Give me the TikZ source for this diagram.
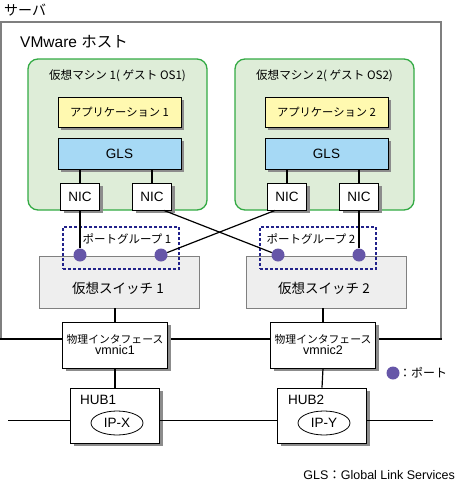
\documentclass[tikz,border=0pt]{standalone}
\usepackage{fontspec}
\setmainfont{Liberation Sans}
\newfontfamily\jp{Noto Sans CJK JP}
\usetikzlibrary{shadows,shapes.geometric}
\definecolor{vmgreen}{HTML}{33AA44}
\definecolor{vmfill}{HTML}{DEEDD8}
\definecolor{appfill}{HTML}{FFF9B0}
\definecolor{glsfill}{HTML}{A6D9F5}
\definecolor{swfill}{HTML}{EEEEEE}
\definecolor{portfill}{HTML}{6656A8}
\definecolor{pgblue}{HTML}{22228A}
\definecolor{srvgray}{HTML}{7F7F7F}
\tikzset{
  shad/.style={drop shadow={opacity=1,fill=black!45,shadow xshift=3pt,shadow yshift=-3pt}},
  vmbox/.style={draw=vmgreen,fill=vmfill,line width=1.3pt,rounded corners=10pt,minimum width=179pt,minimum height=151pt},
  appbox/.style={draw=black,fill=appfill,line width=0.8pt,shad,minimum width=123pt,minimum height=30pt,font=\jp\fontsize{11.3}{13}\selectfont},
  glsbox/.style={draw=black,fill=glsfill,line width=0.8pt,shad,minimum width=123pt,minimum height=31pt,font=\fontsize{13.5}{15}\selectfont},
  nicbox/.style={draw=black,fill=white,line width=0.8pt,shad,minimum width=39pt,minimum height=27pt,inner sep=0pt,font=\fontsize{13.5}{15}\selectfont},
  swbox/.style={draw=black!50,fill=swfill,line width=0.8pt,minimum width=160pt,minimum height=52pt},
  pgbox/.style={draw=pgblue,dash pattern=on 3pt off 2pt,line width=1.4pt,minimum width=116pt,minimum height=42pt},
  port/.style={circle,fill=portfill,minimum size=13pt,inner sep=0pt},
  physbox/.style={draw=black,fill=white,line width=0.8pt,shad,minimum width=105pt,minimum height=46pt},
  hubbox/.style={draw=black,fill=white,line width=0.8pt,shad,minimum width=89pt,minimum height=55pt},
  ipell/.style={ellipse,draw=black,line width=0.8pt,minimum width=52pt,minimum height=24pt,inner sep=0pt,font=\fontsize{13.5}{15}\selectfont},
  conn/.style={draw=black,line width=1.2pt},
  lbl/.style={inner sep=0pt}
}
\begin{document}
\begin{tikzpicture}[x=1pt,y=-1pt]
\useasboundingbox (0,0) rectangle (458,485);
% server
\draw[srvgray,line width=2pt] (1,339) -- (1,22) -- (441,22) -- (441,339);
\draw[conn] (0,339) -- (442,339);
\node[lbl,anchor=west,font=\jp\fontsize{14}{16}\selectfont] (srvlbl) at (4,10) {サーバ};
\node[lbl,anchor=west,font=\fontsize{15.5}{17}\selectfont] (hostlbl) at (20,42) {VMware {\jp ホスト}};
% VMs
\node[vmbox] (vm1) at (117.5,134.5) {};
\node[vmbox] (vm2) at (324.5,134.5) {};
\node[lbl,font=\jp\fontsize{11.6}{13}\selectfont] (vm1lbl) at (117.5,76) {仮想マシン 1( ゲスト OS1)};
\node[lbl,font=\jp\fontsize{11.6}{13}\selectfont] (vm2lbl) at (324.5,76) {仮想マシン 2( ゲスト OS2)};
\node[appbox] (app1) at (119.5,112) {アプリケーション 1};
\node[appbox] (app2) at (326.5,112) {アプリケーション 2};
\node[glsbox] (gls1) at (119.5,153.5) {GLS};
\node[glsbox] (gls2) at (326.5,153.5) {GLS};
\node[nicbox] (nic1a) at (80,196.5) {NIC};
\node[nicbox] (nic1b) at (152,196.5) {NIC};
\node[nicbox] (nic2a) at (287,196.5) {NIC};
\node[nicbox] (nic2b) at (359,196.5) {NIC};
\draw[conn] (gls1.south -| nic1a) -- (nic1a.north);
\draw[conn] (gls1.south -| nic1b) -- (nic1b.north);
\draw[conn] (gls2.south -| nic2a) -- (nic2a.north);
\draw[conn] (gls2.south -| nic2b) -- (nic2b.north);
% switches
\node[swbox] (sw1) at (119,282) {};
\node[swbox] (sw2) at (326,282) {};
\node[lbl,font=\jp\fontsize{13.5}{15}\selectfont] (sw1lbl) at (118,288) {仮想スイッチ 1};
\node[lbl,font=\jp\fontsize{13.5}{15}\selectfont] (sw2lbl) at (324,288) {仮想スイッチ 2};
\node[pgbox] (pg1) at (121,248) {};
\node[pgbox] (pg2) at (318,248) {};
\node[lbl,font=\jp\fontsize{11.5}{13}\selectfont] (pg1lbl) at (127,239.5) {ポートグループ 1};
\node[lbl,font=\jp\fontsize{11.5}{13}\selectfont] (pg2lbl) at (311,239.5) {ポートグループ 2};
\node[port] (p1a) at (80,255) {};
\node[port] (p1b) at (161,255) {};
\node[port] (p2a) at (278,255) {};
\node[port] (p2b) at (359,255) {};
\draw[conn] (nic1a.south) -- (p1a);
\draw[conn] (nic2b.south) -- (p2b);
\draw[conn] ([xshift=-8pt]nic1b.south east) -- (p2a);
\draw[conn] ([xshift=8pt]nic2a.south west) -- (p1b);
% physical interfaces
\node[physbox,align=center] (phys1) at (115,345) {{\jp\fontsize{10.8}{14}\selectfont 物理インタフェース}\\[-1pt]{\fontsize{12.5}{14}\selectfont vmnic1}};
\node[physbox,align=center] (phys2) at (323,345) {{\jp\fontsize{10.8}{14}\selectfont 物理インタフェース}\\[-1pt]{\fontsize{12.5}{14}\selectfont vmnic2}};
\draw[conn] (phys1.north) -- (phys1.north |- sw1.south);
\draw[conn] (phys2.north) -- (phys2.north |- sw2.south);
% hubs
\node[hubbox] (hub1) at (115,415.5) {};
\node[hubbox] (hub2) at (322,415.5) {};
\draw[conn] (hub1.north) -- (phys1.south);
\draw[conn] (hub2.north) -- (phys2.south);
\node[lbl,anchor=west,font=\fontsize{13.5}{15}\selectfont] (hub1lbl) at (80,400) {HUB1};
\node[lbl,anchor=west,font=\fontsize{13.5}{15}\selectfont] (hub2lbl) at (288,400) {HUB2};
\node[ipell] (ipx) at (117,423) {IP-X};
\node[ipell] (ipy) at (324,423) {IP-Y};
\coordinate (lanL) at (8,420.5);
\coordinate (lanR) at (433,420.5);
\draw[conn] (lanL) -- (lanL -| hub1.west);
\draw[conn] (lanL -| hub1.east) -- (lanL -| hub2.west);
\draw[conn] (lanR -| hub2.east) -- (lanR);
% legend
\node[port] (legport) at (393,373) {};
\node[lbl,anchor=west,font=\jp\fontsize{12}{14}\selectfont] (leglbl) at (399,373) {：ポート};
\node[lbl,anchor=east,font=\fontsize{12.5}{14}\selectfont] (foot) at (455,475) {GLS{\jp ：}Global Link Services};
\end{tikzpicture}
\end{document}
